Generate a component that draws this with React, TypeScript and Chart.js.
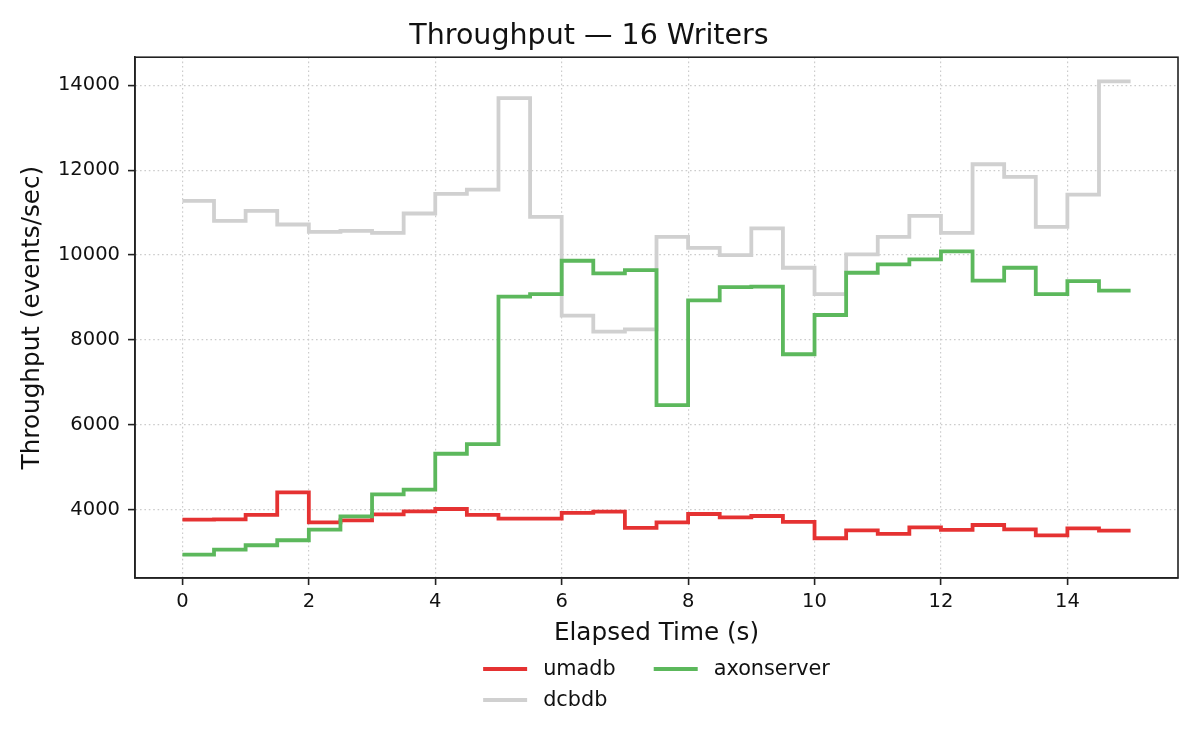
import React, { useEffect, useRef } from "react";
import { Chart, registerables } from "chart.js";

Chart.register(...registerables);

// elapsed seconds, one sample every half second (last point repeats the final bucket)
const times = [
  0, 0.5, 1, 1.5, 2, 2.5, 3, 3.5, 4, 4.5, 5, 5.5, 6, 6.5, 7, 7.5, 8, 8.5, 9,
  9.5, 10, 10.5, 11, 11.5, 12, 12.5, 13, 13.5, 14, 14.5, 15,
];

const umadb = [
  3765, 3770, 3875, 4408, 3702, 3749, 3890, 3961, 4016, 3875, 3790, 3790, 3922,
  3953, 3569, 3702, 3898, 3820, 3851, 3710, 3326, 3514, 3428, 3584, 3522, 3639,
  3537, 3396, 3561, 3506, 3506,
];

const dcbdb = [
  11276, 10805, 11040, 10719, 10546, 10570, 10523, 10978, 11440, 11542, 13698,
  10899, 8571, 8194, 8249, 10429, 10170, 9998, 10625, 9700, 9080, 10013, 10429,
  10923, 10523, 12138, 11840, 10664, 11424, 14090, 14090,
];

const axonserver = [
  2942, 3059, 3161, 3279, 3530, 3843, 4361, 4470, 5317, 5544, 9018, 9080, 9864,
  9566, 9645, 6462, 8931, 9245, 9255, 7661, 8586, 9582, 9778, 9896, 10084, 9394,
  9700, 9080, 9386, 9159, 9159,
];

const xTicks = [0, 2, 4, 6, 8, 10, 12, 14];
const yTicks = [4000, 6000, 8000, 10000, 12000, 14000];

const FONT = "'DejaVu Sans', sans-serif";
const AXIS_COLOR = "#222222";
const GRID_COLOR = "#cccccc";

const series = [
  { label: "umadb", values: umadb, color: "#e53232", order: 2 },
  { label: "dcbdb", values: dcbdb, color: "#d0d0d0", order: 1 },
  { label: "axonserver", values: axonserver, color: "#5cb85c", order: 0 },
];

// frame on all four sides + two-column legend under the x axis title
const framePlugin = {
  id: "frameAndLegend",
  afterDraw(chart: any) {
    const { ctx, chartArea: a } = chart;
    ctx.save();
    ctx.setLineDash([]);
    ctx.strokeStyle = AXIS_COLOR;
    ctx.lineWidth = 1.6;
    ctx.strokeRect(a.left, a.top, a.right - a.left, a.bottom - a.top);

    ctx.font = `20.8px ${FONT}`;
    ctx.textBaseline = "middle";
    ctx.textAlign = "left";
    const lineLen = 44;
    const gap = 16;
    const colGap = 38;
    const rows = 2;
    const cols: (typeof series)[] = [];
    series.forEach((s, i) => {
      const c = Math.floor(i / rows);
      (cols[c] = cols[c] || []).push(s);
    });
    const colWidths = cols.map(
      (col) =>
        lineLen + gap + Math.max(...col.map((s) => ctx.measureText(s.label).width))
    );
    const total = colWidths.reduce((p, w) => p + w, 0) + colGap * (cols.length - 1);
    let x = (a.left + a.right) / 2 - total / 2;
    cols.forEach((col, ci) => {
      col.forEach((s, ri) => {
        const y = a.bottom + 91 + ri * 31;
        ctx.strokeStyle = s.color;
        ctx.lineWidth = 3.8;
        ctx.beginPath();
        ctx.moveTo(x, y);
        ctx.lineTo(x + lineLen, y);
        ctx.stroke();
        ctx.fillStyle = "#111111";
        ctx.fillText(s.label, x + lineLen + gap, y + 1);
      });
      x += colWidths[ci] + colGap;
    });
    ctx.restore();
  },
};

const gridOpts = {
  color: GRID_COLOR,
  lineWidth: 1.2,
  drawTicks: true,
  tickLength: 7,
  tickColor: AXIS_COLOR,
  tickWidth: 1.6,
  tickBorderDash: [],
};

// in Chart.js 4 the grid-line dash comes from border.dash
const borderOpts = { display: true, color: AXIS_COLOR, width: 1.6, dash: [1.6, 2.8] };

export default function App() {
  const canvasRef = useRef<HTMLCanvasElement>(null);

  useEffect(() => {
    document.body.style.margin = "0";
    if (!canvasRef.current) return;

    const chart = new Chart(canvasRef.current, {
      type: "line",
      data: {
        datasets: series.map((s) => ({
          label: s.label,
          data: times.map((t, i) => ({ x: t, y: s.values[i] })),
          borderColor: s.color,
          backgroundColor: s.color,
          borderWidth: 3.8,
          pointRadius: 0,
          stepped: "before" as const,
          fill: false,
          order: s.order,
        })),
      },
      options: {
        animation: false,
        responsive: true,
        maintainAspectRatio: false,
        layout: { padding: { left: 0, right: 22, top: 0, bottom: 102 } },
        plugins: {
          legend: { display: false },
          tooltip: { enabled: false },
          title: {
            display: true,
            text: "Throughput — 16 Writers",
            color: "#111111",
            font: { family: FONT, size: 28.5, weight: "normal" },
            padding: { top: 19, bottom: 4 },
          },
        },
        scales: {
          x: {
            type: "linear",
            min: -0.75,
            max: 15.75,
            afterBuildTicks: (scale: any) => {
              scale.ticks = xTicks.map((v) => ({ value: v }));
            },
            afterFit: (scale: any) => {
              scale.height = 70;
            },
            ticks: {
              color: "#111111",
              font: { family: FONT, size: 19.5 },
              padding: 5,
              maxRotation: 0,
              autoSkip: false,
              callback: (v: any) => String(v),
            },
            grid: gridOpts,
            border: borderOpts,
            title: {
              display: true,
              text: "Elapsed Time (s)",
              color: "#111111",
              font: { family: FONT, size: 24.7, lineHeight: 1.2 },
              padding: { top: 0, bottom: 0 },
            },
          },
          y: {
            type: "linear",
            min: 2390,
            max: 14660,
            afterBuildTicks: (scale: any) => {
              scale.ticks = yTicks.map((v) => ({ value: v }));
            },
            afterFit: (scale: any) => {
              scale.width = 135;
            },
            ticks: {
              color: "#111111",
              font: { family: FONT, size: 19.5 },
              padding: 8,
              callback: (v: any) => String(v),
            },
            grid: gridOpts,
            border: borderOpts,
            title: {
              display: true,
              text: "Throughput (events/sec)",
              color: "#111111",
              font: { family: FONT, size: 24.7, lineHeight: 1.2 },
              padding: { top: 18, bottom: 0 },
            },
          },
        },
      },
      plugins: [framePlugin],
    });

    return () => chart.destroy();
  }, []);

  return (
    <div style={{ width: 1200, height: 750, position: "relative", background: "#fff" }}>
      <canvas ref={canvasRef} />
    </div>
  );
}
